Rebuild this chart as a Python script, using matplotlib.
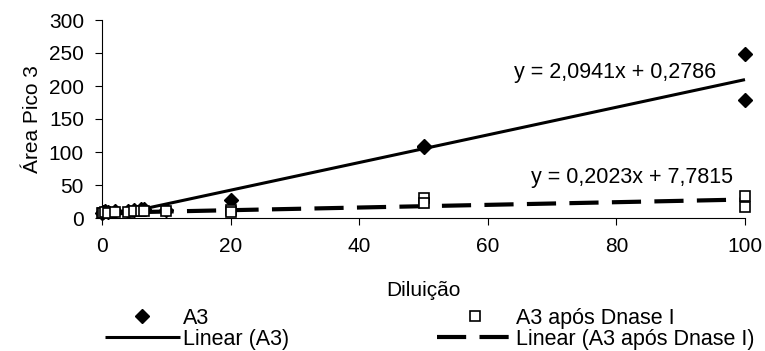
import numpy as np
import matplotlib
matplotlib.use("Agg")
import matplotlib.pyplot as plt

plt.rcParams['font.family'] = ['Liberation Sans', 'DejaVu Sans']
plt.rcParams['font.size'] = 15

# Diluição vs área do pico 3
x_a3 = [0, 0.2, 0.5, 1, 2, 4, 5, 6, 6.5, 10, 20, 50, 50, 100, 100]
y_a3 = [8, 9, 10, 9, 10, 10, 12, 13, 14, 12, 27, 107, 109, 248, 179]

x_dnase = [0, 0.2, 0.5, 1, 2, 4, 5, 6, 6.5, 10, 20, 20, 50, 50, 100, 100]
y_dnase = [7, 8, 9, 8, 9, 9, 10, 10, 10, 10, 12, 9, 31, 22, 33, 16]

# trend line coefficients (slope, intercept)
fit_a3 = (2.0941, 0.2786)
fit_dnase = (0.2023, 7.7815)

xticks = [0, 20, 40, 60, 80, 100]
yticks = [0, 50, 100, 150, 200, 250, 300]

fig = plt.figure(figsize=(7.65, 3.51), dpi=100)
ax = fig.add_axes([102 / 765, 1 - 218 / 351, 643 / 765, 198 / 351])

xl = np.array([0, 100])
l1, = ax.plot(xl, fit_a3[0] * xl + fit_a3[1], color='black', lw=2.2,
              solid_capstyle='butt', label='Linear (A3)', clip_on=False)
l2, = ax.plot(xl, fit_dnase[0] * xl + fit_dnase[1], color='black', lw=3,
              dashes=(7, 3.2), label='Linear (A3 após Dnase I)', clip_on=False)

m1, = ax.plot(x_a3, y_a3, 'D', color='black', ms=7, ls='none',
              label='A3', clip_on=False, zorder=4)
m2, = ax.plot(x_dnase, y_dnase, 's', mfc='white', mec='black', mew=1.2,
              ms=7.5, ls='none', label='A3 após Dnase I', clip_on=False, zorder=5)

ax.text(95.5, 221, 'y = 2,0941x + 0,2786', ha='right', va='center', fontsize=15.5)
ax.text(98.1, 62, 'y = 0,2023x + 7,7815', ha='right', va='center', fontsize=15.5)

ax.set_xlim(0, 100)
ax.set_ylim(0, 300)
ax.set_xticks(xticks)
ax.set_yticks(yticks)
ax.spines['top'].set_visible(False)
ax.spines['right'].set_visible(False)
ax.tick_params(direction='out', length=5, width=0.8, labelsize=15)
ax.tick_params(axis='x', pad=9)
ax.tick_params(axis='y', pad=8)
ax.set_xlabel('Diluição', fontsize=15, labelpad=18)
ax.set_ylabel('Área Pico 3', fontsize=15, labelpad=5)

fig.legend([m1, l1, m2, l2],
           ['A3', 'Linear (A3)', 'A3 após Dnase I', 'Linear (A3 após Dnase I)'],
           ncol=2, loc='upper left', bbox_to_anchor=(94 / 765, 1 - 297 / 351),
           frameon=False, borderpad=0, labelspacing=0.0, handlelength=3.5,
           handletextpad=0.15, columnspacing=6.85, fontsize=15.5)

fig.savefig('out.png', dpi=100)
